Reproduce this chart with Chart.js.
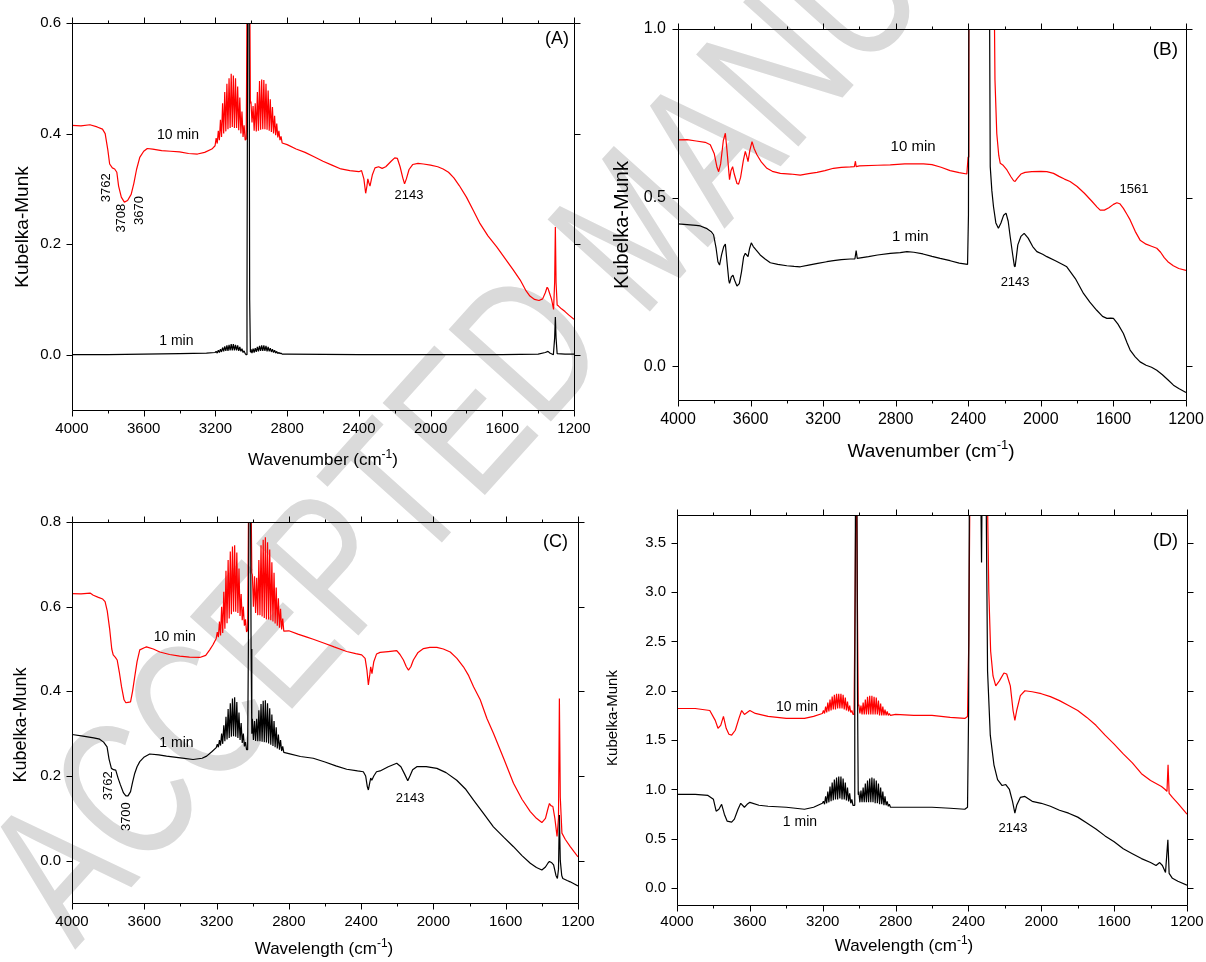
<!DOCTYPE html>
<html>
<head>
<meta charset="utf-8">
<title>DRIFTS spectra</title>
<script src="https://cdn.jsdelivr.net/npm/chart.js@4.4.1/dist/chart.umd.min.js"></script>
<style>
  body { margin: 0; background: #fff; }
  #page { position: relative; width: 1206px; height: 962px; overflow: hidden; }
  #wm {
    position: absolute; left: 75px; top: 781px;
    transform-origin: 0 169px; transform: rotate(-48deg) scaleX(0.74);
    font: 200px "Liberation Sans", Arial, sans-serif; line-height: 1;
    color: #dadada; white-space: nowrap;
  }
  canvas { position: absolute; }
</style>
</head>
<body>
<div id="page">
  <div id="wm">ACCEPTED MANUSCRIPT</div>
  <canvas id="chartA" width="600" height="480" style="left:0;top:0"></canvas>
  <canvas id="chartB" width="606" height="480" style="left:600px;top:0"></canvas>
  <canvas id="chartC" width="600" height="482" style="left:0;top:480px"></canvas>
  <canvas id="chartD" width="606" height="482" style="left:600px;top:480px"></canvas>
</div>
<script>
// axis ticks (cm-1 and Kubelka-Munk)
const xMajor = [4000, 3600, 3200, 2800, 2400, 2000, 1600, 1200];
const xMinor = [3800, 3400, 3000, 2600, 2200, 1800, 1400];
const yTicksA = [0.0, 0.2, 0.4, 0.6];
const yTicksB = [0.0, 0.5, 1.0];
const yTicksC = [0.0, 0.2, 0.4, 0.6, 0.8];
const yTicksD = [0.0, 0.5, 1.0, 1.5, 2.0, 2.5, 3.0, 3.5];

// wavenumbers of the gas phase CH4 rotational lines (R and P branch)
const rBranchWn = [3196, 3190, 3184, 3178, 3172, 3166, 3160, 3154, 3148, 3142, 3136, 3130, 3124, 3118, 3112, 3106, 3100, 3094, 3088, 3082, 3076, 3070, 3064, 3058, 3052, 3046, 3040, 3034];
const pBranchWn = [3002, 2996, 2990, 2984, 2978, 2972, 2966, 2960, 2954, 2948, 2942, 2936, 2930, 2924, 2918, 2912, 2906, 2900, 2894, 2888, 2882, 2876, 2870, 2864, 2858, 2852, 2846, 2840, 2834, 2828];

// ---- (A) ----
const aRedHead = [[4000,0.415],[3950,0.414],[3900,0.416],[3860,0.412],[3830,0.408],[3815,0.400],[3800,0.370],[3790,0.345],[3775,0.338],[3762,0.336],[3750,0.330],[3740,0.305],[3725,0.285],[3708,0.276],[3690,0.279],[3670,0.290],[3655,0.310],[3640,0.335],[3622,0.357],[3600,0.368],[3580,0.373],[3550,0.372],[3500,0.369],[3450,0.368],[3400,0.367],[3350,0.364],[3300,0.363],[3260,0.366],[3220,0.372],[3202,0.378]];
const aRedR = [0.392,0.382,0.405,0.388,0.425,0.394,0.455,0.400,0.475,0.404,0.490,0.408,0.500,0.410,0.508,0.412,0.505,0.410,0.500,0.410,0.485,0.406,0.465,0.400,0.440,0.394,0.415,0.388];
const aRedQ = [[3028,0.390],[3022,0.750],[3016,0.900],[3010,0.750],[3005,0.455]];
const aRedP = [0.458,0.420,0.450,0.405,0.455,0.404,0.475,0.405,0.495,0.407,0.498,0.408,0.497,0.408,0.490,0.407,0.478,0.405,0.462,0.403,0.448,0.400,0.432,0.397,0.418,0.393,0.405,0.388,0.395,0.383];
const aRedTail = [[2800,0.380],[2750,0.372],[2700,0.366],[2650,0.358],[2600,0.350],[2550,0.343],[2500,0.336],[2450,0.333],[2400,0.331],[2385,0.333],[2372,0.318],[2362,0.292],[2355,0.305],[2350,0.318],[2345,0.312],[2338,0.305],[2325,0.325],[2310,0.338],[2290,0.340],[2270,0.337],[2250,0.340],[2220,0.350],[2200,0.356],[2185,0.355],[2170,0.340],[2155,0.320],[2145,0.309],[2135,0.318],[2120,0.335],[2100,0.344],[2070,0.346],[2040,0.345],[2000,0.343],[1960,0.340],[1930,0.336],[1900,0.330],[1870,0.320],[1840,0.306],[1800,0.285],[1760,0.260],[1724,0.237],[1680,0.215],[1631,0.195],[1580,0.172],[1538,0.153],[1500,0.135],[1470,0.117],[1446,0.106],[1420,0.100],[1395,0.098],[1375,0.101],[1360,0.112],[1350,0.122],[1345,0.120],[1338,0.113],[1325,0.100],[1314,0.082],[1308,0.130],[1304,0.231],[1300,0.130],[1294,0.090],[1286,0.088],[1270,0.083],[1250,0.078],[1230,0.072],[1200,0.064]];

const aBlackHead = [[4000,0.000],[3800,0.000],[3600,0.001],[3400,0.002],[3250,0.003],[3202,0.004]];
const aBlackR = [0.006,0.003,0.008,0.004,0.010,0.005,0.013,0.006,0.015,0.007,0.017,0.007,0.018,0.008,0.019,0.008,0.019,0.008,0.018,0.008,0.017,0.007,0.014,0.006,0.011,0.004,0.007,0.002];
const aBlackQ = [[3028,0.000],[3024,0.100],[3019,0.800],[3016,0.900],[3013,0.800],[3009,0.100],[3005,0.005]];
const aBlackP = [0.010,0.003,0.011,0.004,0.012,0.005,0.014,0.006,0.016,0.007,0.017,0.007,0.017,0.007,0.016,0.006,0.014,0.006,0.012,0.005,0.010,0.004,0.008,0.003,0.006,0.002,0.004,0.002,0.003,0.001];
const aBlackTail = [[2800,0.001],[2400,0.000],[2000,0.000],[1600,0.000],[1400,0.001],[1360,0.004],[1345,0.006],[1335,0.003],[1315,0.000],[1308,0.030],[1304,0.068],[1300,0.030],[1294,0.002],[1250,0.001],[1200,0.001]];

// ---- (B) ----
const bRed = [[4000,0.671],[3950,0.672],[3900,0.668],[3850,0.664],[3822,0.657],[3800,0.630],[3785,0.590],[3776,0.577],[3765,0.600],[3750,0.670],[3739,0.691],[3730,0.640],[3716,0.553],[3708,0.580],[3699,0.592],[3690,0.570],[3675,0.542],[3666,0.540],[3655,0.560],[3640,0.610],[3629,0.637],[3620,0.620],[3614,0.607],[3604,0.640],[3592,0.666],[3580,0.645],[3565,0.627],[3540,0.605],[3510,0.587],[3480,0.578],[3436,0.572],[3380,0.570],[3326,0.567],[3280,0.571],[3234,0.575],[3190,0.580],[3143,0.587],[3100,0.590],[3050,0.591],[3028,0.592],[3022,0.608],[3018,0.592],[3000,0.594],[2900,0.596],[2830,0.597],[2750,0.600],[2647,0.600],[2600,0.598],[2550,0.590],[2500,0.580],[2450,0.574],[2408,0.570],[2401,0.620],[2397,1.600],[2360,3.000],[2300,3.000],[2265,1.600],[2253,0.850],[2243,0.690],[2232,0.625],[2224,0.602],[2210,0.597],[2187,0.582],[2165,0.562],[2150,0.550],[2142,0.548],[2130,0.557],[2110,0.570],[2087,0.575],[2050,0.577],[2000,0.578],[1967,0.577],[1930,0.572],[1900,0.563],[1870,0.555],[1839,0.548],[1800,0.533],[1760,0.513],[1720,0.490],[1690,0.472],[1673,0.463],[1650,0.463],[1625,0.470],[1600,0.480],[1581,0.485],[1565,0.482],[1545,0.468],[1525,0.450],[1508,0.434],[1480,0.400],[1453,0.374],[1420,0.362],[1390,0.356],[1361,0.350],[1340,0.338],[1320,0.322],[1300,0.310],[1270,0.298],[1240,0.290],[1200,0.284]];
const bBlack = [[4000,0.422],[3950,0.420],[3900,0.418],[3877,0.416],[3840,0.408],[3815,0.398],[3804,0.390],[3790,0.350],[3780,0.310],[3771,0.300],[3760,0.330],[3748,0.355],[3739,0.362],[3730,0.310],[3720,0.255],[3716,0.246],[3706,0.265],[3697,0.270],[3688,0.255],[3675,0.238],[3662,0.245],[3650,0.280],[3638,0.325],[3629,0.335],[3614,0.325],[3605,0.350],[3596,0.366],[3585,0.355],[3570,0.345],[3547,0.330],[3520,0.318],[3491,0.307],[3450,0.302],[3400,0.298],[3360,0.296],[3326,0.295],[3280,0.300],[3230,0.305],[3180,0.310],[3143,0.313],[3100,0.316],[3050,0.318],[3025,0.318],[3018,0.343],[3012,0.320],[2950,0.325],[2900,0.330],[2830,0.335],[2775,0.337],[2738,0.340],[2700,0.338],[2650,0.333],[2600,0.326],[2555,0.320],[2500,0.313],[2450,0.306],[2404,0.302],[2399,0.450],[2395,1.600],[2360,3.000],[2300,3.000],[2287,1.600],[2279,0.592],[2270,0.520],[2261,0.473],[2248,0.425],[2234,0.409],[2220,0.425],[2205,0.448],[2192,0.454],[2180,0.430],[2169,0.384],[2155,0.330],[2146,0.297],[2142,0.295],[2136,0.320],[2127,0.360],[2110,0.385],[2092,0.394],[2070,0.380],[2045,0.355],[2022,0.340],[1990,0.332],[1967,0.325],[1920,0.313],[1880,0.302],[1857,0.295],[1810,0.260],[1765,0.216],[1730,0.190],[1692,0.166],[1660,0.148],[1636,0.142],[1615,0.143],[1600,0.142],[1575,0.125],[1545,0.097],[1525,0.070],[1508,0.048],[1480,0.028],[1453,0.013],[1420,0.003],[1390,-0.003],[1361,-0.012],[1330,-0.025],[1300,-0.040],[1269,-0.056],[1240,-0.066],[1205,-0.076],[1200,-0.078]];

// ---- (C) ----
const cRedHead = [[4000,0.631],[3950,0.630],[3900,0.632],[3882,0.627],[3854,0.622],[3830,0.618],[3817,0.612],[3805,0.590],[3791,0.545],[3780,0.500],[3772,0.486],[3760,0.480],[3750,0.474],[3738,0.445],[3726,0.411],[3712,0.380],[3702,0.373],[3690,0.374],[3676,0.375],[3665,0.400],[3653,0.434],[3640,0.470],[3625,0.498],[3600,0.503],[3588,0.505],[3550,0.500],[3514,0.493],[3460,0.487],[3404,0.483],[3350,0.481],[3293,0.480],[3260,0.485],[3238,0.498],[3220,0.510],[3202,0.525]];
const cRedR = [0.540,0.528,0.565,0.532,0.600,0.538,0.635,0.548,0.685,0.561,0.710,0.572,0.730,0.582,0.742,0.588,0.745,0.588,0.728,0.585,0.690,0.578,0.630,0.568,0.600,0.555,0.570,0.540];
const cRedQ = [[3028,0.545],[3022,0.900],[3016,1.000],[3010,0.900],[3005,0.680]];
const cRedP = [0.675,0.600,0.672,0.585,0.668,0.580,0.710,0.580,0.745,0.577,0.758,0.573,0.764,0.570,0.752,0.570,0.735,0.568,0.705,0.565,0.680,0.560,0.645,0.555,0.620,0.550,0.595,0.546,0.572,0.542];
const cRedTail = [[2800,0.543],[2750,0.535],[2700,0.528],[2665,0.523],[2600,0.513],[2550,0.505],[2480,0.494],[2430,0.489],[2397,0.486],[2378,0.478],[2368,0.450],[2360,0.415],[2352,0.440],[2347,0.458],[2340,0.442],[2330,0.470],[2315,0.488],[2295,0.492],[2250,0.494],[2203,0.496],[2185,0.487],[2166,0.474],[2150,0.458],[2138,0.450],[2125,0.458],[2111,0.474],[2085,0.492],[2055,0.501],[2020,0.504],[1981,0.504],[1945,0.500],[1907,0.493],[1870,0.478],[1834,0.458],[1805,0.437],[1778,0.411],[1741,0.380],[1704,0.336],[1668,0.301],[1610,0.240],[1557,0.183],[1510,0.145],[1464,0.116],[1430,0.100],[1400,0.090],[1380,0.100],[1365,0.125],[1358,0.135],[1350,0.130],[1339,0.128],[1328,0.100],[1316,0.057],[1308,0.100],[1303,0.383],[1298,0.150],[1289,0.065],[1270,0.050],[1243,0.033],[1220,0.020],[1200,0.009]];

const cBlackHead = [[4000,0.298],[3939,0.294],[3880,0.290],[3847,0.287],[3825,0.280],[3806,0.269],[3795,0.240],[3782,0.218],[3770,0.215],[3758,0.214],[3745,0.195],[3732,0.179],[3715,0.160],[3702,0.153],[3690,0.153],[3676,0.163],[3665,0.185],[3653,0.206],[3640,0.222],[3625,0.234],[3600,0.245],[3570,0.252],[3520,0.250],[3477,0.247],[3400,0.243],[3330,0.239],[3280,0.242],[3255,0.247],[3225,0.258],[3202,0.267]];
const cBlackR = [0.275,0.268,0.285,0.272,0.300,0.276,0.320,0.282,0.340,0.286,0.358,0.290,0.372,0.293,0.383,0.294,0.386,0.293,0.375,0.290,0.350,0.285,0.325,0.278,0.300,0.270,0.280,0.262];
const cBlackQ = [[3028,0.262],[3024,0.500],[3019,1.000],[3016,1.100],[3013,1.000],[3009,0.500],[3005,0.300]];
const cBlackP = [0.335,0.285,0.330,0.283,0.335,0.282,0.355,0.282,0.370,0.281,0.378,0.280,0.379,0.279,0.372,0.277,0.360,0.274,0.345,0.271,0.330,0.268,0.315,0.265,0.298,0.262,0.285,0.259,0.270,0.256];
const cBlackTail = [[2800,0.253],[2736,0.246],[2665,0.242],[2600,0.233],[2540,0.224],[2480,0.216],[2420,0.212],[2388,0.210],[2375,0.200],[2366,0.175],[2360,0.167],[2352,0.185],[2347,0.195],[2341,0.190],[2330,0.200],[2315,0.210],[2295,0.212],[2250,0.222],[2203,0.230],[2180,0.222],[2160,0.205],[2142,0.189],[2130,0.200],[2115,0.215],[2092,0.222],[2040,0.222],[1981,0.218],[1930,0.208],[1871,0.190],[1820,0.168],[1778,0.143],[1720,0.110],[1668,0.080],[1610,0.055],[1557,0.033],[1510,0.012],[1464,-0.006],[1430,-0.016],[1400,-0.022],[1380,-0.015],[1365,-0.005],[1358,-0.002],[1345,-0.005],[1335,-0.010],[1322,-0.035],[1314,-0.042],[1308,-0.020],[1303,0.108],[1298,0.000],[1290,-0.035],[1284,-0.042],[1260,-0.047],[1243,-0.050],[1220,-0.055],[1200,-0.060]];

// ---- (D) ----
const dRedHead = [[4000,1.82],[3900,1.82],[3820,1.80],[3790,1.70],[3775,1.62],[3760,1.65],[3745,1.74],[3730,1.62],[3715,1.56],[3700,1.55],[3680,1.60],[3660,1.72],[3645,1.80],[3630,1.76],[3615,1.78],[3600,1.80],[3570,1.77],[3500,1.74],[3400,1.72],[3300,1.72],[3250,1.74],[3202,1.77]];
const dRedR = [1.80,1.77,1.84,1.78,1.88,1.79,1.91,1.80,1.94,1.81,1.96,1.81,1.97,1.82,1.97,1.82,1.97,1.82,1.96,1.81,1.93,1.80,1.89,1.79,1.85,1.78,1.80,1.76];
const dRedQ = [[3028,1.76],[3022,3.00],[3016,4.50],[3010,3.00],[3005,1.85]];
const dRedP = [1.86,1.77,1.85,1.76,1.88,1.76,1.91,1.76,1.94,1.76,1.95,1.76,1.95,1.76,1.94,1.76,1.93,1.76,1.90,1.75,1.87,1.75,1.84,1.75,1.81,1.75,1.79,1.75,1.77,1.75];
const dRedTail = [[2800,1.76],[2700,1.75],[2600,1.75],[2500,1.73],[2420,1.72],[2405,1.74],[2398,2.50],[2390,4.50],[2300,4.50],[2288,3.00],[2278,2.40],[2265,2.15],[2250,2.05],[2230,2.10],[2205,2.18],[2190,2.17],[2170,2.05],[2155,1.80],[2145,1.70],[2135,1.80],[2115,1.95],[2090,2.00],[2050,1.99],[2000,1.97],[1950,1.94],[1900,1.90],[1850,1.85],[1800,1.80],[1750,1.73],[1700,1.65],[1650,1.55],[1600,1.46],[1550,1.36],[1500,1.27],[1450,1.16],[1400,1.09],[1360,1.05],[1340,1.03],[1320,1.00],[1310,0.98],[1304,1.25],[1298,0.96],[1280,0.92],[1250,0.86],[1200,0.75]];

const dBlackHead = [[4000,0.95],[3900,0.95],[3830,0.94],[3800,0.90],[3785,0.78],[3770,0.80],[3755,0.85],[3740,0.75],[3725,0.68],[3700,0.67],[3685,0.70],[3665,0.80],[3650,0.86],[3630,0.82],[3615,0.85],[3600,0.87],[3550,0.84],[3500,0.83],[3400,0.82],[3300,0.80],[3250,0.82],[3202,0.86]];
const dBlackR = [0.88,0.85,0.93,0.86,0.98,0.87,1.03,0.88,1.07,0.89,1.10,0.90,1.12,0.90,1.13,0.91,1.13,0.90,1.11,0.90,1.07,0.89,1.02,0.88,0.96,0.86,0.90,0.84];
const dBlackQ = [[3028,0.84],[3024,2.00],[3019,4.50],[3016,5.00],[3013,4.50],[3009,2.00],[3005,0.95]];
const dBlackP = [0.98,0.87,0.99,0.87,1.02,0.87,1.06,0.87,1.09,0.87,1.11,0.87,1.12,0.87,1.11,0.86,1.09,0.86,1.06,0.85,1.02,0.85,0.98,0.84,0.93,0.84,0.88,0.83,0.85,0.82];
const dBlackTail = [[2800,0.82],[2700,0.82],[2600,0.82],[2500,0.81],[2420,0.80],[2405,0.82],[2399,1.80],[2394,4.50],[2335,4.50],[2328,3.30],[2323,4.50],[2305,4.50],[2295,2.20],[2280,1.55],[2260,1.25],[2240,1.10],[2215,1.04],[2195,1.05],[2175,1.00],[2158,0.88],[2145,0.76],[2135,0.84],[2115,0.92],[2090,0.93],[2050,0.88],[2000,0.86],[1950,0.83],[1900,0.79],[1850,0.76],[1800,0.72],[1750,0.66],[1700,0.60],[1650,0.53],[1600,0.47],[1550,0.40],[1500,0.35],[1450,0.30],[1400,0.26],[1370,0.23],[1350,0.26],[1335,0.23],[1318,0.16],[1305,0.49],[1298,0.15],[1280,0.10],[1250,0.07],[1200,0.03]];

const FONT = '"Liberation Sans", Arial, Helvetica, sans-serif';
const font = s => s + 'px ' + FONT;

// pair a wavenumber grid with its values
function band(grid, vals) {
  return grid.map((x, i) => [x, vals[i]]);
}
function toPoints(...parts) {
  return [].concat(...parts).map(([x, y]) => ({ x, y }));
}

// title text with a superscript piece, centred on (cx, cy)
function drawTitle(ctx, pieces, cx, cy, rot, size) {
  const sup = Math.round(size * 0.68);
  ctx.save();
  ctx.translate(cx, cy);
  ctx.rotate(rot);
  let total = 0;
  const widths = pieces.map(p => {
    ctx.font = font(p.sup ? sup : size);
    const w = ctx.measureText(p.t).width;
    total += w;
    return w;
  });
  let x = -total / 2;
  ctx.textAlign = 'left';
  ctx.textBaseline = 'alphabetic';
  pieces.forEach((p, i) => {
    ctx.font = font(p.sup ? sup : size);
    ctx.fillText(p.t, x, size * 0.36 - (p.sup ? size * 0.42 : 0));
    x += widths[i];
  });
  ctx.restore();
}

// Origin style frame: box, outward ticks on four sides, labels, notes
function frame(cfg) {
  return {
    id: 'frame' + cfg.letter,
    afterDatasetsDraw(chart) {
      const { ctx, chartArea: a } = chart;
      const xs = chart.scales.x, ys = chart.scales.y;
      const L = Math.round(a.left) + 0.5, R = Math.round(a.right) + 0.5;
      const T = Math.round(a.top) + 0.5, B = Math.round(a.bottom) + 0.5;
      ctx.save();
      ctx.strokeStyle = '#000';
      ctx.fillStyle = '#000';
      ctx.lineWidth = 1;
      ctx.beginPath();
      ctx.moveTo(L, T); ctx.lineTo(R, T); ctx.lineTo(R, B); ctx.lineTo(L, B); ctx.closePath();
      const xt = (v, len) => {
        const p = Math.round(xs.getPixelForValue(v)) + 0.5;
        ctx.moveTo(p, B); ctx.lineTo(p, B + len);
        ctx.moveTo(p, T); ctx.lineTo(p, T - len);
      };
      const yt = (v, len) => {
        const p = Math.round(ys.getPixelForValue(v)) + 0.5;
        ctx.moveTo(L, p); ctx.lineTo(L - len, p);
        ctx.moveTo(R, p); ctx.lineTo(R + len, p);
      };
      xMajor.forEach(v => xt(v, 6));
      xMinor.forEach(v => xt(v, 3));
      cfg.yTicks.forEach(v => yt(v, 6));
      ctx.stroke();

      ctx.font = font(cfg.tickSize);
      ctx.textBaseline = 'middle';
      ctx.textAlign = 'center';
      xMajor.forEach(v => ctx.fillText(String(v), xs.getPixelForValue(v), a.bottom + cfg.xLabelGap));
      ctx.textAlign = 'right';
      cfg.yTicks.forEach(v => ctx.fillText(v.toFixed(1), a.left - cfg.yLabelGap, ys.getPixelForValue(v)));

      drawTitle(ctx, [{ t: cfg.xTitle + ' (cm' }, { t: '-1', sup: true }, { t: ')' }],
        cfg.xTitlePos[0], cfg.xTitlePos[1], 0, cfg.xTitleSize);
      drawTitle(ctx, [{ t: 'Kubelka-Munk' }], cfg.yTitlePos[0], cfg.yTitlePos[1], -Math.PI / 2, cfg.yTitleSize);

      // panel letter
      ctx.font = font(cfg.letterSize);
      ctx.textAlign = 'right';
      ctx.textBaseline = 'middle';
      ctx.fillText('(' + cfg.letter + ')', a.right - cfg.letterPos[0], a.top + cfg.letterPos[1]);

      // peak notes
      cfg.notes.forEach(n => {
        ctx.save();
        ctx.translate(xs.getPixelForValue(n.x), ys.getPixelForValue(n.y));
        if (n.rot) ctx.rotate(n.rot * Math.PI / 180);
        ctx.font = font(n.size);
        ctx.textAlign = 'center';
        ctx.textBaseline = 'middle';
        ctx.fillText(n.t, 0, 0);
        ctx.restore();
      });
      ctx.restore();
    }
  };
}

function drawPanel(id, cfg) {
  new Chart(document.getElementById(id), {
    type: 'line',
    data: {
      datasets: cfg.series.map(s => ({
        data: s.data,
        borderColor: s.color,
        borderWidth: 1.2,
        borderJoinStyle: 'bevel',
        pointRadius: 0,
        tension: 0,
        fill: false
      }))
    },
    options: {
      responsive: false,
      animation: false,
      devicePixelRatio: 1,
      events: [],
      layout: { padding: cfg.pad },
      scales: {
        x: { type: 'linear', reverse: true, min: 1200, max: 4000, display: false },
        y: { type: 'linear', min: cfg.yMin, max: cfg.yMax, display: false }
      },
      plugins: { legend: { display: false }, tooltip: { enabled: false } }
    },
    plugins: [frame(cfg)]
  });
}

// black first so that it is drawn on top of red
drawPanel('chartA', {
  letter: 'A', yMin: -0.1, yMax: 0.6, yTicks: yTicksA,
  pad: { left: 72, top: 23, right: 26, bottom: 70 },
  tickSize: 15, xLabelGap: 19, yLabelGap: 11,
  xTitle: 'Wavenumber', xTitlePos: [323, 459], xTitleSize: 17,
  yTitlePos: [21, 227], yTitleSize: 19,
  letterSize: 18, letterPos: [5, 16],
  series: [
    { color: '#000000', data: toPoints(aBlackHead, band(rBranchWn, aBlackR), aBlackQ, band(pBranchWn, aBlackP), aBlackTail) },
    { color: '#ff0000', data: toPoints(aRedHead, band(rBranchWn, aRedR), aRedQ, band(pBranchWn, aRedP), aRedTail) }
  ],
  notes: [
    { t: '10 min', x: 3409, y: 0.397, size: 14 },
    { t: '1 min', x: 3418, y: 0.025, size: 14 },
    { t: '3762', x: 3808, y: 0.302, size: 13, rot: -90 },
    { t: '3708', x: 3724, y: 0.247, size: 13, rot: -90 },
    { t: '3670', x: 3622, y: 0.261, size: 13, rot: -90 },
    { t: '2143', x: 2120, y: 0.288, size: 13 }
  ]
});

drawPanel('chartB', {
  letter: 'B', yMin: -0.1, yMax: 1.0, yTicks: yTicksB,
  pad: { left: 78, top: 29, right: 20, bottom: 80 },
  tickSize: 16, xLabelGap: 20, yLabelGap: 12,
  xTitle: 'Wavenumber', xTitlePos: [331, 450], xTitleSize: 19,
  yTitlePos: [21, 225], yTitleSize: 20,
  letterSize: 19, letterPos: [8, 21],
  series: [
    { color: '#000000', data: toPoints(bBlack) },
    { color: '#ff0000', data: toPoints(bRed) }
  ],
  notes: [
    { t: '10 min', x: 2704, y: 0.651, size: 15 },
    { t: '1 min', x: 2720, y: 0.384, size: 15 },
    { t: '2143', x: 2142, y: 0.250, size: 13 },
    { t: '1561', x: 1487, y: 0.525, size: 13 }
  ]
});

drawPanel('chartC', {
  letter: 'C', yMin: -0.1, yMax: 0.8, yTicks: yTicksC,
  pad: { left: 72, top: 42, right: 22, bottom: 59 },
  tickSize: 15, xLabelGap: 19, yLabelGap: 11,
  xTitle: 'Wavelength', xTitlePos: [324, 468], xTitleSize: 17,
  yTitlePos: [20, 245], yTitleSize: 18,
  letterSize: 18, letterPos: [10, 20],
  series: [
    { color: '#000000', data: toPoints(cBlackHead, band(rBranchWn, cBlackR), cBlackQ, band(pBranchWn, cBlackP), cBlackTail) },
    { color: '#ff0000', data: toPoints(cRedHead, band(rBranchWn, cRedR), cRedQ, band(pBranchWn, cRedP), cRedTail) }
  ],
  notes: [
    { t: '10 min', x: 3431, y: 0.529, size: 14 },
    { t: '1 min', x: 3422, y: 0.277, size: 14 },
    { t: '3762', x: 3797, y: 0.177, size: 13, rot: -90 },
    { t: '3700', x: 3699, y: 0.104, size: 13, rot: -90 },
    { t: '2143', x: 2129, y: 0.147, size: 13 }
  ]
});

drawPanel('chartD', {
  letter: 'D', yMin: -0.17, yMax: 3.78, yTicks: yTicksD,
  pad: { left: 77, top: 35, right: 19, bottom: 57 },
  tickSize: 15, xLabelGap: 17, yLabelGap: 11,
  xTitle: 'Wavelength', xTitlePos: [304, 465], xTitleSize: 17,
  yTitlePos: [12, 238], yTitleSize: 15,
  letterSize: 18, letterPos: [9, 26],
  series: [
    { color: '#000000', data: toPoints(dBlackHead, band(rBranchWn, dBlackR), dBlackQ, band(pBranchWn, dBlackP), dBlackTail) },
    { color: '#ff0000', data: toPoints(dRedHead, band(rBranchWn, dRedR), dRedQ, band(pBranchWn, dRedP), dRedTail) }
  ],
  notes: [
    { t: '10 min', x: 3341, y: 1.83, size: 14 },
    { t: '1 min', x: 3325, y: 0.67, size: 14 },
    { t: '2143', x: 2155, y: 0.61, size: 13 }
  ]
});
</script>
</body>
</html>
